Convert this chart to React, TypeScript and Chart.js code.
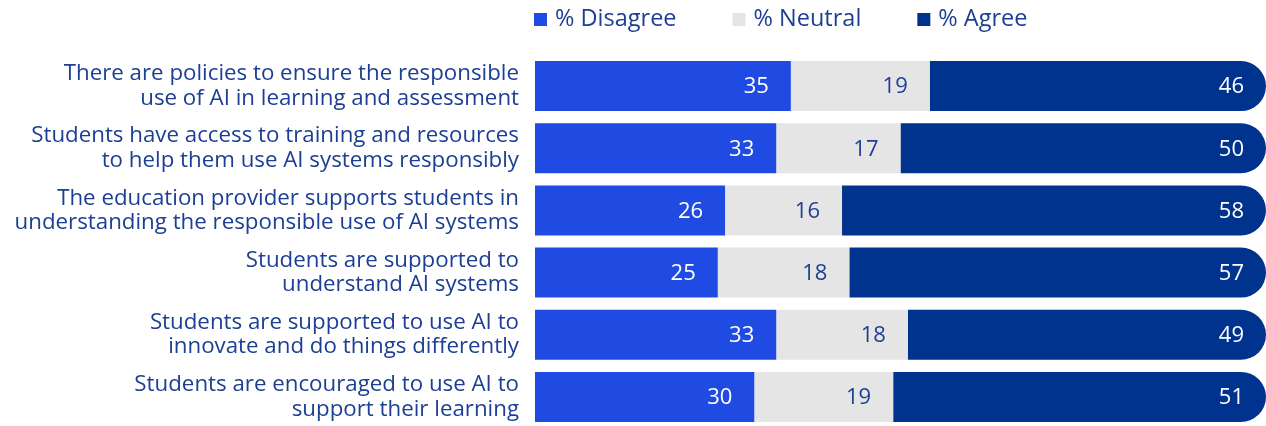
import React, { useEffect, useRef } from "react";
import { Chart, registerables } from "chart.js";

Chart.register(...registerables);

const categories: string[][] = [
  ["There are policies to ensure the responsible", "use of AI in learning and assessment"],
  ["Students have access to training and resources", "to help them use AI systems responsibly"],
  ["The education provider supports students in", "understanding the responsible use of AI systems"],
  ["Students are supported to", "understand AI systems"],
  ["Students are supported to use AI to", "innovate and do things differently"],
  ["Students are encouraged to use AI to", "support their learning"],
];
const disagree = [35, 33, 26, 25, 33, 30];
const neutral = [19, 17, 16, 18, 18, 19];
const agree = [46, 50, 58, 57, 49, 51];
const seriesNames = ["% Disagree", "% Neutral", "% Agree"];

const COLORS = ["#1f4be2", "#e5e5e5", "#00338d"];
const LABEL_COLORS = ["#ffffff", "#1c3f94", "#ffffff"];
const TEXT = "#1c3f94";
const FONT = "Open Sans";

const legendPlugin = {
  id: "customLegend",
  afterDraw(chart: any) {
    const ctx = chart.ctx;
    const area = chart.chartArea;
    ctx.save();
    ctx.font = `23.5px "${FONT}"`;
    ctx.textBaseline = "middle";
    ctx.textAlign = "left";
    let x = area.left - 1;
    const y = 19.5;
    chart.data.datasets.forEach((ds: any, i: number) => {
      ctx.fillStyle = COLORS[i];
      ctx.fillRect(x, y - 6.5, 13, 13);
      ctx.fillStyle = TEXT;
      const tx = x + 21;
      ctx.fillText(ds.label, tx, y);
      x = tx + ctx.measureText(ds.label).width + 56;
    });
    ctx.restore();
  },
};

const valueLabelPlugin = {
  id: "valueLabels",
  afterDatasetsDraw(chart: any) {
    const ctx = chart.ctx;
    ctx.save();
    ctx.font = `22px "${FONT}"`;
    ctx.textBaseline = "middle";
    ctx.textAlign = "right";
    chart.data.datasets.forEach((ds: any, i: number) => {
      const meta = chart.getDatasetMeta(i);
      meta.data.forEach((el: any, j: number) => {
        ctx.fillStyle = LABEL_COLORS[i];
        ctx.fillText(String(ds.data[j]), el.x - 22, el.y + 1);
      });
    });
    ctx.restore();
  },
};

export default function App() {
  const ref = useRef<HTMLCanvasElement>(null);
  useEffect(() => {
    if (!ref.current) return;
    const data = [disagree, neutral, agree];
    const chart = new Chart(ref.current, {
      type: "bar",
      data: {
        labels: categories,
        datasets: data.map((d, i) => ({
          label: seriesNames[i],
          data: d,
          backgroundColor: COLORS[i],
          borderWidth: 0,
          borderRadius: i === 2 ? 25 : 0,
          borderSkipped: "start",
          barPercentage: 0.804,
          categoryPercentage: 1,
        })),
      },
      options: {
        indexAxis: "y",
        responsive: false,
        maintainAspectRatio: false,
        animation: false,
        layout: { padding: { top: 55, left: 0, right: 0, bottom: 0 } },
        plugins: {
          legend: { display: false },
          tooltip: { enabled: false },
        },
        scales: {
          x: {
            stacked: true,
            min: 0,
            max: 100,
            display: false,
          },
          y: {
            stacked: true,
            grid: { display: false, drawTicks: false },
            border: { display: false },
            afterFit: (scale: any) => {
              scale.width = 535;
              scale.paddingTop = 0;
              scale.paddingBottom = 0;
            },
            ticks: {
              padding: 16,
              color: TEXT,
              font: { family: FONT, size: 22.3, lineHeight: 1.1 },
            },
          },
        },
      },
      plugins: [legendPlugin, valueLabelPlugin],
    });
    return () => chart.destroy();
  }, []);
  return (
    <div style={{ position: "fixed", left: 0, top: 0, width: 1266, height: 428, background: "#fff" }}>
      <canvas ref={ref} width={1266} height={428} style={{ width: 1266, height: 428, display: "block" }} />
    </div>
  );
}
